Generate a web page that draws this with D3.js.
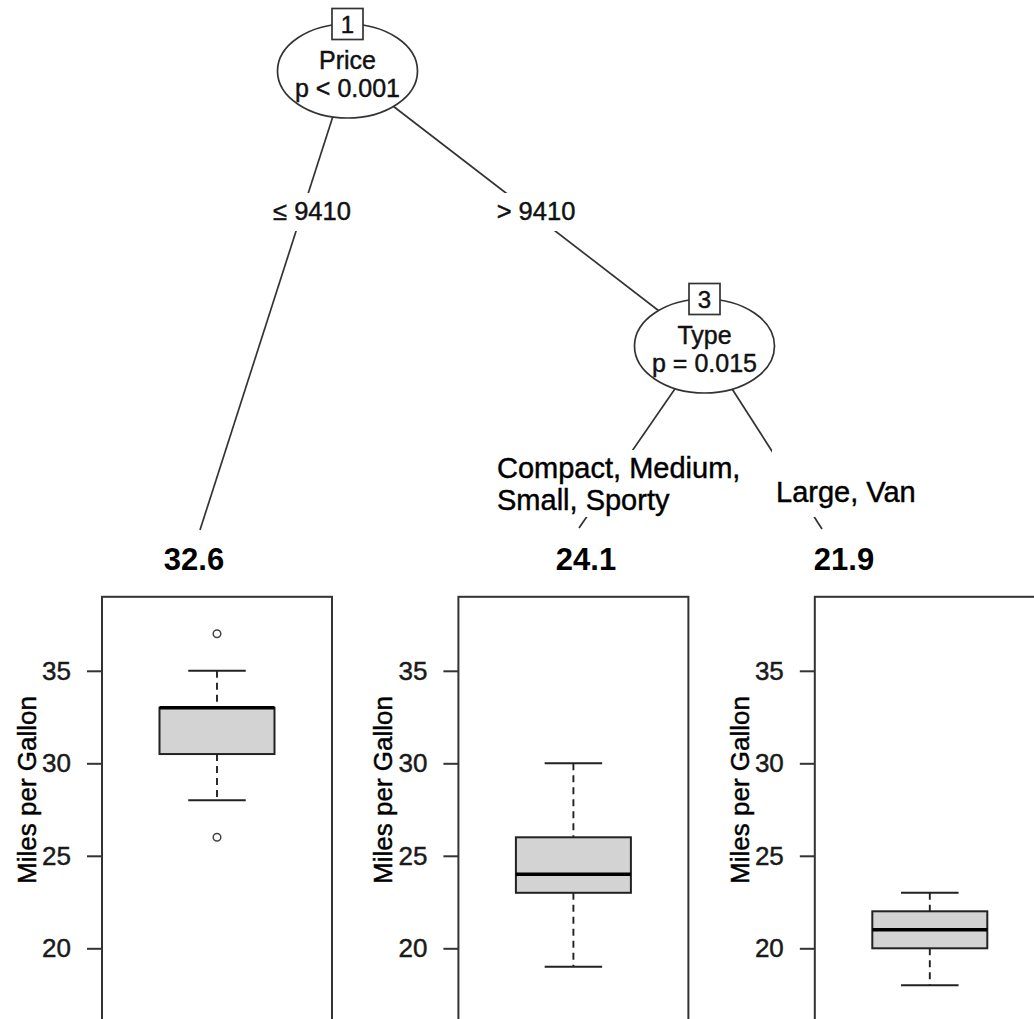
<!DOCTYPE html>
<html>
<head>
<meta charset="utf-8">
<script src="https://cdn.jsdelivr.net/npm/d3@7"></script>
<style>
  html, body { margin: 0; padding: 0; background: #fff; }
  svg { display: block; }
  text { font-family: "Liberation Sans", Arial, Helvetica, sans-serif; }
  .heavy { stroke: currentColor; stroke-width: 0.45px; paint-order: stroke; }
</style>
</head>
<body>
<script>
// ---- Tree content -------------------------------------------------------
const innerIds     = [1, 3];
const splitVars    = ["Price", "Type"];
const splitPvals   = ["p < 0.001", "p = 0.015"];
const priceEdges   = ["\u2264 9410", "> 9410"];
const typeEdges    = [["Compact, Medium,", "Small, Sporty"], ["Large, Van"]];

// ---- Terminal nodes -----------------------------------------------------
const leafIds      = [2, 4, 5];
const leafMeans    = [32.6, 24.1, 21.9];
const whiskerLow   = [28, 19, 18];
const quart1       = [30.5, 23, 20];
const medians      = [33, 24, 21];
const quart3       = [33, 26, 22];
const whiskerHigh  = [35, 30, 23];
const outliers     = [[26, 37], [], []];

const yTicks       = [20, 25, 30, 35];
const yDomain      = [16, 39];
const yTitle       = "Miles per Gallon";

// ---- Layout -------------------------------------------------------------
const W = 1034, H = 1019;
const innerPos = [{x: 347.5, y: 71}, {x: 704.5, y: 346}];
const rx = 70, ry = 47;
const leafAnchor = [{x: 200, y: 530}, {x: 579, y: 528}, {x: 822, y: 529}];
const leafLabelX = [194, 586, 844];

const svg = d3.select("body").append("svg")
  .attr("width", W).attr("height", H);

const ink = "#111";

// Edges (drawn beneath the node ellipses and label patches)
const edges = [
  {from: innerPos[0], to: leafAnchor[0]},
  {from: innerPos[0], to: innerPos[1]},
  {from: innerPos[1], to: leafAnchor[1]},
  {from: innerPos[1], to: leafAnchor[2]}
];
svg.append("g").selectAll("line").data(edges).join("line")
  .attr("x1", d => d.from.x).attr("y1", d => d.from.y)
  .attr("x2", d => d.to.x).attr("y2", d => d.to.y)
  .attr("stroke", "#333").attr("stroke-width", 1.7);

// Split labels on the Price edges
const priceLabelPos = [{x: 312, y: 220}, {x: 536, y: 220}];
const gPrice = svg.append("g");
priceEdges.forEach((lab, i) => {
  const g = gPrice.append("g");
  const bg = g.append("rect").attr("fill", "#fff");
  const t = g.append("text")
    .attr("class", "heavy")
    .attr("x", priceLabelPos[i].x).attr("y", priceLabelPos[i].y)
    .attr("text-anchor", "middle")
    .attr("font-size", 25.5).attr("fill", ink).style("color", ink)
    .text(lab);
  const b = t.node().getBBox();
  bg.attr("x", b.x - 4).attr("y", b.y - 4)
    .attr("width", b.width + 8).attr("height", b.height + 10);
});

// Split labels on the Type edges
const typeLabelPos = [{x: 497, y: 478}, {x: 776, y: 502}];
const lineGap = 32;
const gType = svg.append("g");
const typeGroups = typeEdges.map((lines, i) => {
  const g = gType.append("g");
  const bg = g.append("rect").attr("fill", "#fff");
  const t = g.append("text")
    .attr("class", "heavy")
    .attr("font-size", 29).attr("fill", "#000").style("color", "#000");
  t.selectAll("tspan").data(lines).join("tspan")
    .attr("x", typeLabelPos[i].x)
    .attr("y", (d, j) => typeLabelPos[i].y + j * lineGap)
    .text(d => d);
  return {bg, box: t.node().getBBox()};
});
const typeTop = d3.min(typeGroups, d => d.box.y) - 2;
const typeBot = d3.max(typeGroups, d => d.box.y + d.box.height) + 1;
typeGroups.forEach(d => {
  d.bg.attr("x", d.box.x - 4).attr("y", typeTop)
      .attr("width", d.box.width + 8).attr("height", typeBot - typeTop);
});

// Inner nodes: ellipse, id box, variable and p-value
const gNodes = svg.append("g").selectAll("g").data(innerIds).join("g")
  .attr("transform", (d, i) => `translate(${innerPos[i].x},${innerPos[i].y})`);
gNodes.append("ellipse")
  .attr("rx", rx).attr("ry", ry)
  .attr("fill", "#fff").attr("stroke", "#333").attr("stroke-width", 1.7);
gNodes.append("rect")
  .attr("x", -15.5).attr("y", -ry - 15.5)
  .attr("width", 31).attr("height", 31)
  .attr("fill", "#fff").attr("stroke", "#333").attr("stroke-width", 1.7);
gNodes.append("text")
  .attr("class", "heavy")
  .attr("y", -ry + 9).attr("text-anchor", "middle")
  .attr("font-size", 24).attr("fill", ink).style("color", ink)
  .text(d => d);
gNodes.append("text")
  .attr("class", "heavy")
  .attr("y", -2).attr("text-anchor", "middle")
  .attr("font-size", 25).attr("fill", ink).style("color", ink)
  .text((d, i) => splitVars[i]);
gNodes.append("text")
  .attr("class", "heavy")
  .attr("y", 26).attr("text-anchor", "middle")
  .attr("font-size", 25).attr("fill", ink).style("color", ink)
  .text((d, i) => splitPvals[i]);

// Terminal node means
svg.append("g").selectAll("text").data(leafMeans).join("text")
  .attr("x", (d, i) => leafLabelX[i]).attr("y", 570)
  .attr("text-anchor", "middle")
  .attr("font-size", 31).attr("font-weight", "bold").attr("fill", "#000")
  .text(d => d.toFixed(1));

// ---- Boxplot panels ----------------------------------------------------
const x = d3.scaleBand()
  .domain(leafIds)
  .range([102, 1044.8])
  .paddingInner(0.3547)
  .paddingOuter(0);
const y = d3.scaleLinear().domain(yDomain).range([1022.3, 596.8]);
const bw = x.bandwidth();

const panels = svg.append("g").selectAll("g").data(leafIds).join("g")
  .attr("transform", d => `translate(${x(d)},0)`);

panels.append("rect")
  .attr("x", 0).attr("y", y(yDomain[1]))
  .attr("width", bw).attr("height", y(yDomain[0]) - y(yDomain[1]))
  .attr("fill", "none").attr("stroke", "#333").attr("stroke-width", 2);

// y axis on each panel
panels.each(function() {
  const ax = d3.select(this).append("g")
    .call(d3.axisLeft(y).tickValues(yTicks).tickSize(15).tickPadding(16));
  ax.select(".domain").remove();
  ax.selectAll(".tick line").attr("stroke", "#333").attr("stroke-width", 2);
  ax.selectAll(".tick text")
    .attr("class", "heavy")
    .attr("font-size", 26).attr("fill", "#1a1a1a").style("color", "#1a1a1a")
    .style("font-family", '"Liberation Sans", Arial, sans-serif');
});

panels.append("text")
  .attr("class", "heavy")
  .attr("transform", `translate(-66,790) rotate(-90)`)
  .attr("text-anchor", "middle")
  .attr("font-size", 26).attr("fill", "#000").style("color", "#000")
  .text(yTitle);

const cx = bw / 2, half = bw / 4, cap = bw / 8;

// whiskers
panels.append("line")
  .attr("x1", cx).attr("x2", cx)
  .attr("y1", (d, i) => y(whiskerHigh[i])).attr("y2", (d, i) => y(quart3[i]))
  .attr("stroke", "#222").attr("stroke-width", 1.9).attr("stroke-dasharray", "7,5");
panels.append("line")
  .attr("x1", cx).attr("x2", cx)
  .attr("y1", (d, i) => y(quart1[i])).attr("y2", (d, i) => y(whiskerLow[i]))
  .attr("stroke", "#222").attr("stroke-width", 1.9).attr("stroke-dasharray", "7,5");
// whisker caps
panels.append("line")
  .attr("x1", cx - cap).attr("x2", cx + cap)
  .attr("y1", (d, i) => y(whiskerHigh[i])).attr("y2", (d, i) => y(whiskerHigh[i]))
  .attr("stroke", "#222").attr("stroke-width", 1.9);
panels.append("line")
  .attr("x1", cx - cap).attr("x2", cx + cap)
  .attr("y1", (d, i) => y(whiskerLow[i])).attr("y2", (d, i) => y(whiskerLow[i]))
  .attr("stroke", "#222").attr("stroke-width", 1.9);
// boxes
panels.append("rect")
  .attr("x", cx - half).attr("width", 2 * half)
  .attr("y", (d, i) => y(quart3[i]))
  .attr("height", (d, i) => y(quart1[i]) - y(quart3[i]))
  .attr("fill", "#d3d3d3").attr("stroke", "#222").attr("stroke-width", 2);
// medians
panels.append("line")
  .attr("x1", cx - half).attr("x2", cx + half)
  .attr("y1", (d, i) => y(medians[i])).attr("y2", (d, i) => y(medians[i]))
  .attr("stroke", "#000").attr("stroke-width", 3.5);
// outliers
panels.each(function(d, i) {
  d3.select(this).selectAll("circle").data(outliers[i]).join("circle")
    .attr("cx", cx).attr("cy", v => y(v)).attr("r", 3.8)
    .attr("fill", "#fff").attr("stroke", "#444").attr("stroke-width", 1.5);
});
</script>
</body>
</html>
